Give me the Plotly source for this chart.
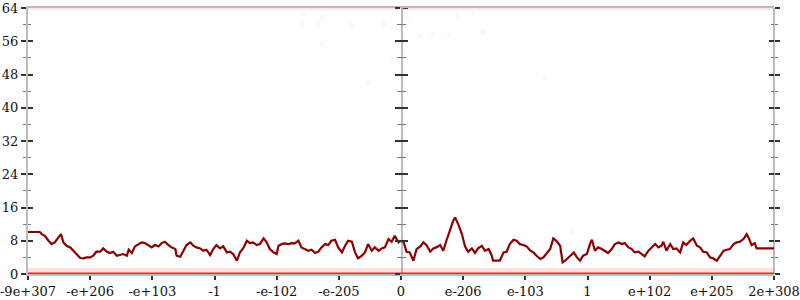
import plotly.graph_objects as go
from plotly.subplots import make_subplots

# x tick labels (axis positions 0..12)
tick_vals = list(range(13))
tick_text = ["-9e+307", "-e+206", "-e+103", "-1", "-e-102", "-e-205", "0",
             "e-206", "e-103", "1", "e+102", "e+205", "2e+308"]

# dark red running line
line_x = [0.00, 0.19, 0.22, 0.27, 0.33, 0.38, 0.43, 0.49, 0.53, 0.57, 0.62, 0.68, 0.73, 0.78, 0.84,
          0.89, 0.94, 1.00, 1.05, 1.10, 1.16, 1.21, 1.27, 1.32, 1.37, 1.43, 1.48, 1.53, 1.59, 1.62,
          1.67, 1.72, 1.78, 1.83, 1.88, 1.94, 1.99, 2.04, 2.10, 2.15, 2.20, 2.26, 2.31, 2.37, 2.39,
          2.45, 2.50, 2.55, 2.61, 2.66, 2.71, 2.77, 2.82, 2.87, 2.93, 2.98,
          3.03, 3.09, 3.14, 3.20, 3.25, 3.30, 3.36, 3.41, 3.46, 3.52, 3.57, 3.62, 3.68, 3.73, 3.79,
          3.84, 3.89, 3.95, 4.00, 4.03, 4.08, 4.13, 4.19, 4.24, 4.29, 4.35, 4.40, 4.46, 4.51, 4.56,
          4.62, 4.67, 4.72, 4.78, 4.83, 4.88, 4.94, 4.99, 5.05, 5.10, 5.15, 5.21, 5.26, 5.31, 5.37,
          5.42, 5.47, 5.53, 5.58, 5.64, 5.69, 5.74, 5.80, 5.85, 5.90, 5.96, 6.00,
          6.04, 6.09, 6.14, 6.20, 6.25, 6.31, 6.36, 6.41, 6.47, 6.52, 6.57, 6.63, 6.68, 6.73, 6.79,
          6.84, 6.87, 6.92, 6.98, 7.03, 7.08, 7.14, 7.19, 7.24, 7.30, 7.35, 7.41, 7.46, 7.48, 7.59,
          7.65, 7.70, 7.75, 7.81, 7.86, 7.91, 7.97, 8.02, 8.08, 8.13, 8.18, 8.24, 8.29, 8.34, 8.40,
          8.45, 8.50, 8.56, 8.60, 8.64, 8.69, 8.75, 8.78, 8.83, 8.88, 8.93, 8.99, 9.04,
          9.07, 9.12, 9.17, 9.23, 9.28, 9.33, 9.39, 9.44, 9.50, 9.55, 9.60, 9.66, 9.71, 9.76, 9.82,
          9.87, 9.92, 9.98, 10.03, 10.09, 10.14, 10.19, 10.22, 10.27, 10.33, 10.38, 10.43, 10.49,
          10.54, 10.59, 10.65, 10.70, 10.76, 10.81, 10.86, 10.92, 10.97, 11.02, 11.08, 11.13, 11.19,
          11.24, 11.29, 11.35, 11.40, 11.45, 11.51, 11.56, 11.59, 11.64, 11.69, 11.72, 11.77, 11.83,
          12.00]
line_y = [10.1, 10.1, 9.6, 9.2, 8.0, 7.2, 7.6, 8.8, 9.6, 7.6, 6.8, 6.4, 5.6, 4.56, 3.84,
          3.76, 4.0, 4.0, 4.4, 5.36, 5.36, 6.16, 5.36, 5.04, 5.36, 4.4, 4.56, 4.8, 4.4, 5.84,
          5.04, 6.64, 7.2, 7.6, 7.44, 6.8, 6.4, 6.96, 6.64, 7.44, 7.76, 6.96, 6.4, 6.0, 4.4,
          4.16, 5.6, 6.96, 7.6, 6.8, 6.4, 6.16, 5.6, 5.84, 4.56, 6.0,
          6.96, 6.16, 6.64, 5.2, 5.36, 4.8, 3.2, 5.2, 6.16, 8.0, 7.44, 7.6, 6.96, 7.2, 8.56,
          7.6, 6.0, 5.2, 4.8, 6.8, 7.2, 7.36, 7.2, 7.44, 7.36, 8.0, 6.4, 6.0, 5.6, 5.84,
          5.04, 5.36, 6.4, 7.2, 6.96, 8.0, 8.24, 6.4, 5.2, 6.8, 8.0, 7.76, 5.2, 3.76, 4.4,
          5.2, 7.2, 5.6, 6.4, 5.6, 6.16, 6.4, 8.4, 7.76, 9.2, 7.6, 8.0,
          7.76, 5.36, 5.2, 3.2, 6.0, 6.64, 7.6, 6.96, 5.36, 6.16, 6.4, 6.96, 5.6, 8.0, 10.8,
          12.8, 13.6, 12.0, 9.6, 6.64, 5.36, 6.16, 5.04, 6.16, 6.8, 5.6, 6.0, 4.4, 3.2, 3.2,
          5.2, 5.36, 7.2, 8.24, 8.0, 7.2, 6.96, 6.64, 5.6, 5.2, 4.4, 3.6, 4.0, 4.8, 6.0,
          8.56, 8.0, 6.8, 2.8, 3.2, 4.0, 4.8, 5.2, 4.0, 3.2, 4.4, 4.8, 7.2,
          8.24, 5.6, 6.4, 6.0, 5.6, 5.04, 6.0, 7.2, 7.6, 7.2, 7.44, 6.4, 6.0, 5.2, 5.36,
          4.8, 4.24, 5.6, 6.4, 7.2, 6.4, 6.8, 7.76, 5.6, 7.2, 6.0, 6.16, 5.2,
          7.6, 6.96, 8.0, 8.56, 6.8, 6.4, 5.36, 5.2, 4.0, 3.76, 3.2, 4.4, 5.6,
          5.84, 6.0, 7.2, 7.6, 7.76, 8.4, 9.6, 8.8, 6.96, 7.44, 6.16, 6.16, 6.16,
          6.16]

# dense faint points along the bottom (0) and top (64)
band_x = [0, 6, 12]
band_low = [0, 0, 0]
band_high = [64, 64, 64]

# sparse faint points
dot_x = [4.42, 4.67, 4.73, 4.41, 5.20, 4.73, 5.73, 6.10, 5.84, 5.47, 6.32, 6.51, 6.77, 6.90,
         7.16, 7.32, 8.32, 8.75]
dot_y = [62.3, 60.4, 61.8, 60.4, 59.9, 55.6, 60.2, 61.6, 51.7, 46.0, 57.3, 57.7, 57.5, 62.3,
         62.8, 58.2, 47.2, 9.9]

FONT = dict(family="DejaVu Serif", size=13, color="#111")
AX = "#bcbcbc"
MAJ = "#333"
MIN = "#777"
MID = 6


def part(xs, ys, left):
    pts = [(a, b) for a, b in zip(xs, ys) if (a <= MID if left else a >= MID)]
    return [p[0] for p in pts], [p[1] for p in pts]


fig = make_subplots(rows=1, cols=2, horizontal_spacing=0)
for col, left in ((1, True), (2, False)):
    bx, bl = part(band_x, band_low, left)
    _, bh = part(band_x, band_high, left)
    dx, dy = part(dot_x, dot_y, left)
    lx, ly = part(line_x, line_y, left)
    fig.add_trace(go.Scatter(x=bx, y=bl, mode="lines", hoverinfo="skip",
                             line=dict(color="rgba(255,60,60,0.16)", width=12)), row=1, col=col)
    fig.add_trace(go.Scatter(x=bx, y=bl, mode="lines", hoverinfo="skip",
                             line=dict(color="rgb(232,40,48)", width=3)), row=1, col=col)
    fig.add_trace(go.Scatter(x=bx, y=bh, mode="lines", hoverinfo="skip",
                             line=dict(color="rgba(255,60,60,0.12)", width=4)), row=1, col=col)
    fig.add_trace(go.Scatter(x=dx, y=dy, mode="markers", hoverinfo="skip",
                             marker=dict(color="rgba(255,40,40,0.05)", size=5)), row=1, col=col)
    fig.add_trace(go.Scatter(x=lx, y=ly, mode="lines",
                             line=dict(color="#8b0000", width=2.2)), row=1, col=col)
    # transparent carrier so the overlay tick axis is drawn
    fig.add_trace(go.Scatter(x=bx, y=bl, mode="lines", hoverinfo="skip",
                             xaxis="x" if left else "x2", yaxis="y3" if left else "y4",
                             line=dict(width=0, color="rgba(0,0,0,0)")))

yminor = dict(dtick=4, tick0=0, ticklen=3, ticks="outside", tickcolor=MIN, tickwidth=1)
yminor_in = dict(dtick=4, tick0=0, ticklen=3, ticks="inside", tickcolor=MIN, tickwidth=1)
ybase = dict(range=[0, 64], dtick=8, tick0=0, showgrid=False, zeroline=False,
             tickcolor=MAJ, tickwidth=1.5, ticklen=5)
xcommon = dict(ticks="outside", ticklen=4, tickcolor=MAJ, tickwidth=1.5, showline=True,
               linecolor=AX, linewidth=2, mirror=True, showgrid=False, zeroline=False,
               tickfont=FONT, automargin=False, ticklabeloverflow="allow",
               layer="below traces")

left_ticks = [v for v in tick_vals if v <= MID]
right_ticks = [v for v in tick_vals if v > MID]

fig.update_layout(
    width=800, height=300,
    margin=dict(l=28, r=26, t=8, b=26),
    plot_bgcolor="white", paper_bgcolor="white",
    showlegend=False,
    xaxis=dict(**xcommon, range=[0, MID], tickvals=left_ticks,
               ticktext=[tick_text[v] for v in left_ticks]),
    xaxis2=dict(**xcommon, range=[MID, 12], tickvals=right_ticks,
                ticktext=[tick_text[v] for v in right_ticks]),
    yaxis=dict(**ybase, ticks="outside", minor=yminor, showline=True, linecolor=AX,
               linewidth=2, mirror="ticks", tickfont=FONT, automargin=False),
    yaxis2=dict(**ybase, ticks="outside", minor=yminor, showline=False, mirror="ticks",
                showticklabels=False),
    yaxis3=dict(**ybase, overlaying="y", anchor="x", side="left", ticks="inside",
                minor=yminor_in, showline=False, mirror="ticks", showticklabels=False),
    yaxis4=dict(**ybase, overlaying="y2", anchor="x2", side="left", ticks="inside",
                minor=yminor_in, showline=False, mirror="ticks", showticklabels=False),
    shapes=[dict(type="line", xref="paper", yref="paper", x0=1, x1=1, y0=0, y1=1,
                 line=dict(color=AX, width=2), layer="below")],
)

fig.write_html("out.html")
